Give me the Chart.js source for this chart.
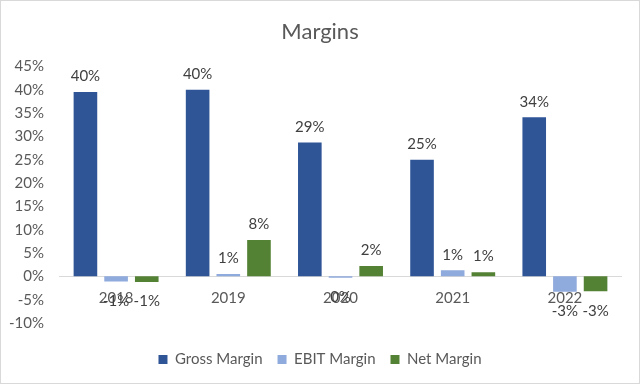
<!DOCTYPE html>
<html>
<head>
<meta charset="utf-8">
<script src="https://cdn.jsdelivr.net/npm/chart.js@4.4.1/dist/chart.umd.min.js"></script>
<style>
  html, body { margin: 0; padding: 0; background: #fff; }
  #wrap { width: 640px; height: 384px; box-sizing: border-box; border: 1px solid #d9d9d9; }
</style>
</head>
<body>
<div id="wrap"><canvas id="chart"></canvas></div>
<script>
// values, in percent
const years = ['2018', '2019', '2020', '2021', '2022'];
const grossMargin = [39.5, 40.0, 28.7, 25.0, 34.1];
const ebitMargin = [-1.1, 0.5, -0.3, 1.3, -3.3];
const netMargin = [-1.2, 7.8, 2.2, 0.9, -3.2];
const yMin = -10;
const yMax = 45;
const yStep = 5;

const textColor = '#595959';
const fontFamily = 'Lato, "Liberation Sans", sans-serif';

// value labels above positive bars, below negative ones
const barLabels = {
    id: 'barLabels',
    afterDatasetsDraw(chart) {
        const ctx = chart.ctx;
        ctx.save();
        ctx.font = `15px ${fontFamily}`;
        ctx.fillStyle = '#404040';
        ctx.textAlign = 'center';
        chart.data.datasets.forEach((ds, i) => {
            chart.getDatasetMeta(i).data.forEach((bar, j) => {
                const v = ds.data[j];
                const txt = Math.round(v) + '%';
                if (v >= 0) {
                    ctx.textBaseline = 'bottom';
                    ctx.fillText(txt, bar.x, bar.y - 8);
                } else {
                    ctx.textBaseline = 'top';
                    ctx.fillText(txt, bar.x, bar.y + 12);
                }
            });
        });
        ctx.restore();
    }
};

new Chart(document.getElementById('chart'), {
    type: 'bar',
    data: {
        labels: years,
        datasets: [
            {label: 'Gross Margin', data: grossMargin, backgroundColor: '#2f5597'},
            {label: 'EBIT Margin', data: ebitMargin, backgroundColor: '#8faadc'},
            {label: 'Net Margin', data: netMargin, backgroundColor: '#548235'}
        ]
    },
    options: {
        responsive: true,
        maintainAspectRatio: false,
        animation: false,
        categoryPercentage: 0.82,
        barPercentage: 0.77,
        layout: {padding: {left: 0, right: 0, top: 6, bottom: 6}},
        plugins: {
            title: {
                display: true,
                text: 'Margins',
                color: textColor,
                font: {family: fontFamily, size: 22, weight: 'normal'},
                padding: {top: 12, bottom: 21}
            },
            legend: {
                display: true,
                position: 'bottom',
                // empty title only used as a spacer above the legend items
                title: {display: true, text: '', font: {size: 10}, padding: {top: 2, bottom: 0}},
                labels: {
                    color: textColor,
                    font: {family: fontFamily, size: 15},
                    boxWidth: 9,
                    boxHeight: 9,
                    padding: 15
                }
            },
            tooltip: {enabled: false}
        },
        scales: {
            x: {
                position: {y: 0},
                grid: {display: false},
                border: {display: true, color: '#d9d9d9'},
                ticks: {color: textColor, font: {family: fontFamily, size: 15}, padding: 5}
            },
            y: {
                min: yMin,
                max: yMax,
                grid: {display: false},
                border: {display: false},
                ticks: {
                    stepSize: yStep,
                    color: textColor,
                    font: {family: fontFamily, size: 15},
                    padding: 8,
                    callback: v => v + '%'
                }
            },
            // blank right margin so the legend stays centred on the page
            yRight: {
                position: 'right',
                grid: {display: false},
                border: {display: false},
                ticks: {display: false},
                afterFit: scale => { scale.width = 18; }
            }
        }
    },
    plugins: [barLabels]
});
</script>
</body>
</html>
